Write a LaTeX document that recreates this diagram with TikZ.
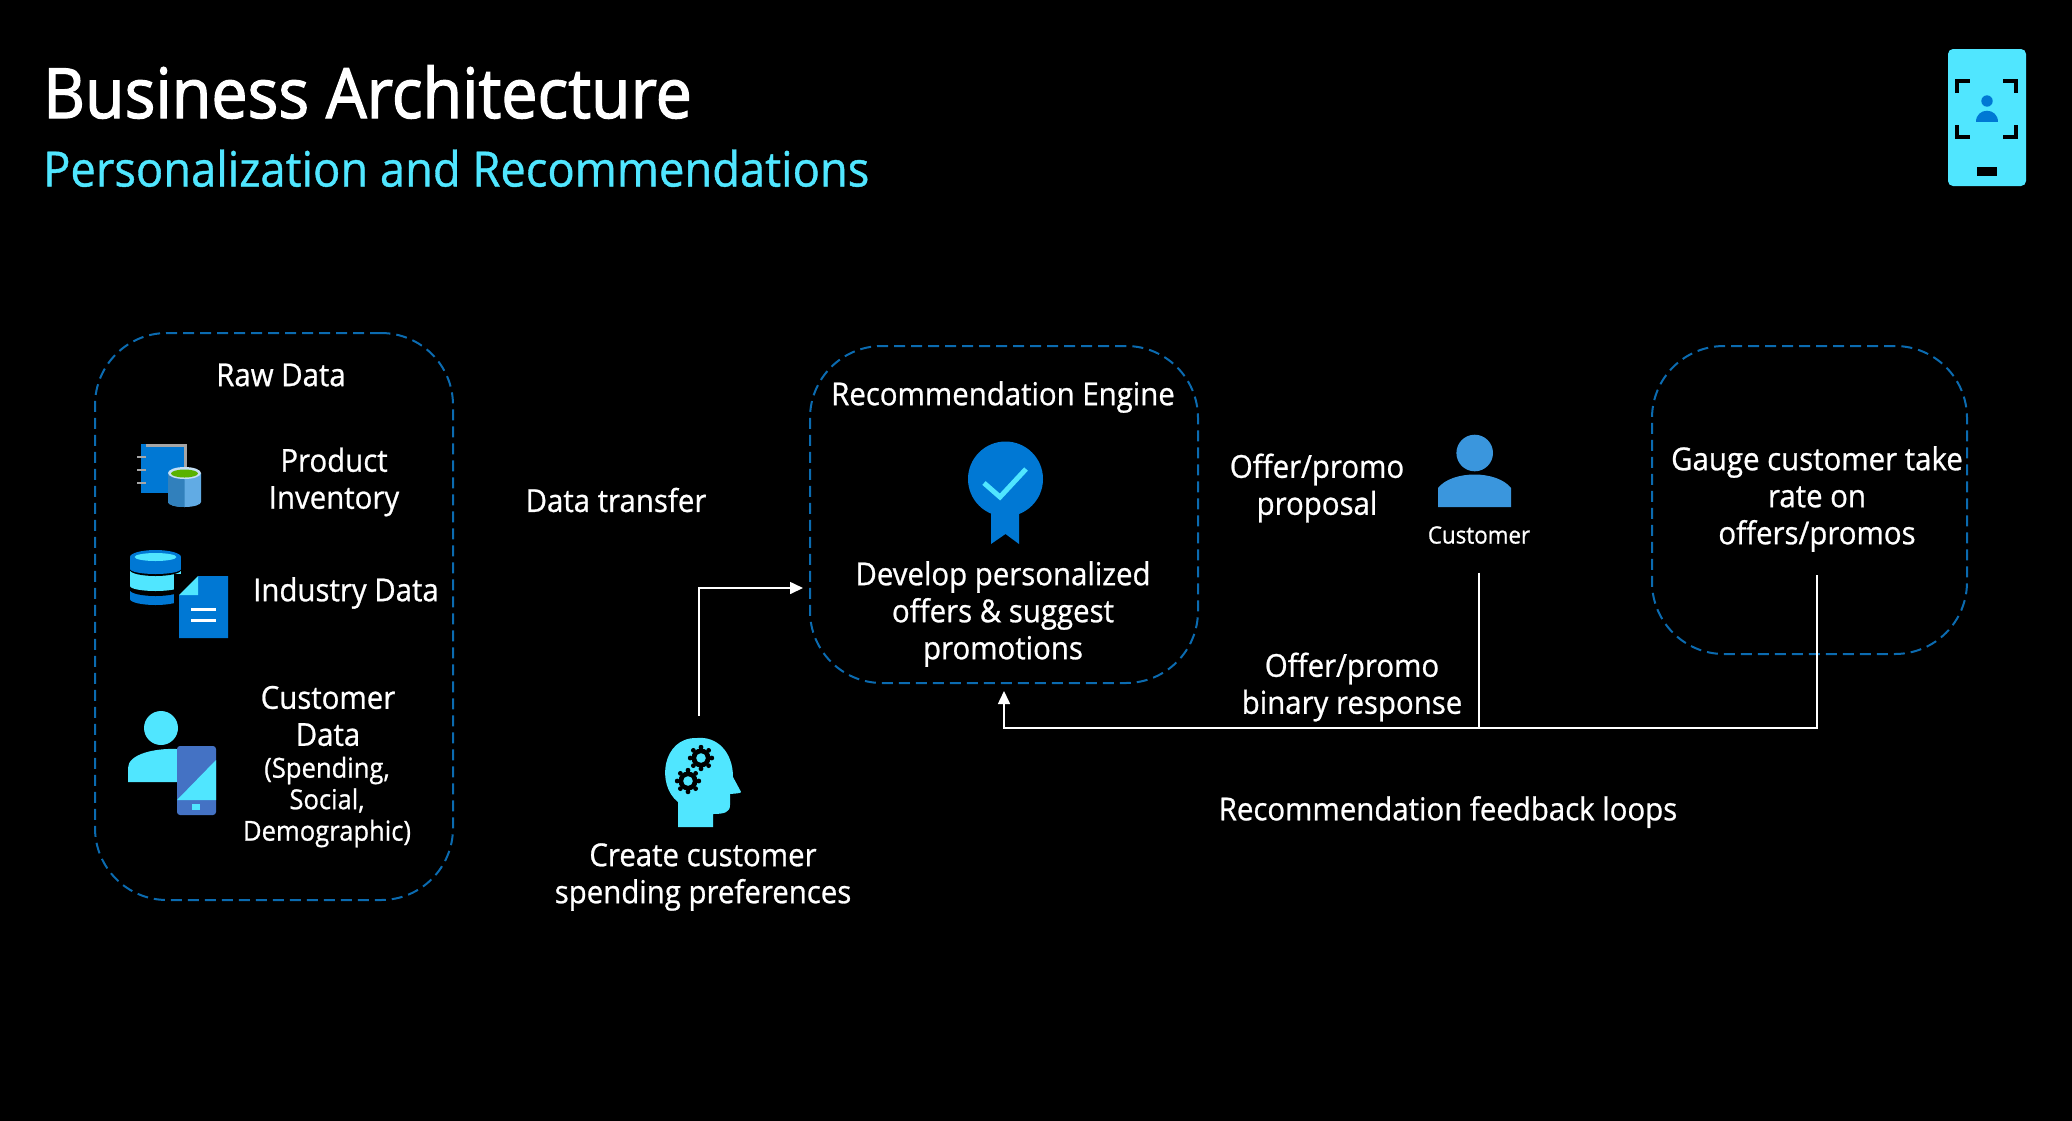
\documentclass[tikz,border=0pt]{standalone}
\usepackage{fontspec}
\setmainfont{Open Sans}[FakeStretch=0.93,FakeBold=0.8]
\newfontfamily\titlefont{Open Sans}[FakeStretch=0.93,FakeBold=1.8]
\usetikzlibrary{arrows.meta}
\definecolor{panelcol}{HTML}{0B6BB0}
\definecolor{iconblue}{HTML}{0078D4}
\definecolor{iconcyan}{HTML}{50E6FF}
\definecolor{personcol}{HTML}{3A96DD}
\definecolor{phonecol}{HTML}{4472C4}
\tikzset{
  panel/.style={draw=panelcol,line width=2,dash pattern=on 11 off 6,rounded corners=72,minimum width=#1},
  lbl/.style={text=white,align=center,inner sep=0,font=\fontsize{31.6}{37}\selectfont},
  small/.style={lbl,font=\fontsize{27.5}{31.5}\selectfont},
  flow/.style={draw=white,line width=1.6},
  tip/.style={-{Triangle[length=13,width=12]}}
}
\begin{document}
\begin{tikzpicture}[x=1pt,y=-1pt]
  \useasboundingbox (0,0) rectangle (2072,1120);
  \fill[black] (-2,-2) rectangle (2074,1122);

  \node[inner sep=0,anchor=base west,text=white,font=\titlefont\fontsize{69.4}{72}\selectfont] (title) at (43,118) {Business Architecture};
  \node[inner sep=0,anchor=base west,text=iconcyan,font=\fontsize{48.7}{50}\selectfont] (subtitle) at (43,186.5) {Personalization and Recommendations};

  % panels
  \node[panel=358,minimum height=567] (rawbox) at (274,616.5) {};
  \node[panel=388,minimum height=337] (engine) at (1004,514.5) {};
  \node[panel=315,minimum height=308] (gaugebox) at (1809.5,500) {};

  % texts
  \node[lbl] (rawtxt) at (281,375) {Raw Data};
  \node[lbl] (prodtxt) at (334,482) {Product\\Inventory};
  \node[lbl] (indtxt) at (346,593) {Industry Data};
  \node[lbl] (custtxt) at (328,716) {Customer\\Data};
  \node[small] (custsub) at (327,802) {(Spending,\\Social,\\Demographic)};
  \node[lbl] (transfer) at (616,500) {Data transfer};
  \node[lbl] (enginetxt) at (1003,397) {Recommendation Engine};
  \node[lbl] (develop) at (1003,614) {Develop personalized\\offers \& suggest\\promotions};
  \node[lbl] (proposal) at (1317,488) {Offer/promo\\proposal};
  \node[small,font=\fontsize{24}{28}\selectfont] (customer) at (1479,535) {Customer};
  \node[lbl] (gauge) at (1817,499) {Gauge customer take\\rate on\\offers/promos};
  \node[lbl] (binary) at (1352,687) {Offer/promo\\binary response};
  \node[lbl] (loops) at (1448,812) {Recommendation feedback loops};
  \node[lbl] (create) at (703,877) {Create customer\\spending preferences};

  % connectors
  \coordinate (brain) at (699,716);
  \coordinate (enginein) at (810,588);
  \coordinate (loop) at (1817,728);
  \draw[flow,tip,shorten >=7] (brain) |- (enginein);
  \draw[flow,tip,shorten <=23,shorten >=7] (gauge.south) -- (loop) -| (engine.south);
  \draw[flow,shorten <=28.5] (customer.south) -- (customer.south |- loop);

  % phone badge
  \fill[iconcyan,rounded corners=5] (1948,49) rectangle (2026,186);
  \draw[black,line width=3.5] (1957,93) -- (1957,81) -- (1970,81);
  \draw[black,line width=3.5] (2003,81) -- (2016,81) -- (2016,93);
  \draw[black,line width=3.5] (1957,125) -- (1957,137) -- (1970,137);
  \draw[black,line width=3.5] (2003,137) -- (2016,137) -- (2016,125);
  \fill[iconblue] (1987,101) circle (5.7);
  \fill[iconblue] (1976,122) .. controls (1976,107) and (1998,107) .. (1998,122) -- cycle;
  \fill[black] (1977,167) rectangle (1997,176);

  % customer
  \fill[personcol] (1474.7,453) circle (18.3);
  \fill[personcol] (1438,507) -- (1438,488) .. controls (1452,470) and (1497,470) .. (1511,488) -- (1511,507) -- cycle;

  % product inventory
  \fill[iconblue] (141,444) rectangle (187,493);
  \draw[gray!70,line width=3] (146,445.5) -- (185.5,445.5) -- (185.5,470);
  \foreach \y in {457,470,483}
    \draw[gray!70,line width=2.5] (137,\y) -- (146,\y);
  \fill[personcol!80!white] (168,473) -- (168,502) arc[x radius=16.5,y radius=5,start angle=180,end angle=0] -- (201,473) -- cycle;
  \fill[personcol!85!black] (168,473) -- (168,502) arc[x radius=16.5,y radius=5,start angle=180,end angle=90] -- (184.5,473) -- cycle;
  \fill[personcol!30!white] (184.5,473) ellipse (16.5 and 6);
  \fill[green!50!yellow!70!black] (184.5,473.5) ellipse (13.5 and 4);

  % industry data
  \fill[iconblue] (130,591) -- (130,599) arc[x radius=25.5,y radius=6,start angle=180,end angle=0] -- (181,591) -- cycle;
  \fill[black] (130,589) -- (130,590) arc[x radius=25.5,y radius=6,start angle=180,end angle=0] -- (181,589) -- cycle;
  \fill[iconcyan] (130,571) rectangle (181,586);
  \fill[iconcyan] (155.5,586) ellipse (25.5 and 5);
  \fill[black] (130,569) -- (130,570) arc[x radius=25.5,y radius=6,start angle=180,end angle=0] -- (181,569) -- cycle;
  \fill[iconblue] (130,557) rectangle (181,569);
  \fill[iconblue] (155.5,569) ellipse (25.5 and 5);
  \fill[iconblue] (155.5,557) ellipse (25.5 and 7);
  \fill[iconcyan] (155.5,557) ellipse (21 and 4);
  \fill[black] (174,574) rectangle (232,642);
  \fill[iconblue] (198,576) -- (228,576) -- (228,638) -- (179,638) -- (179,595) -- (198,595) -- cycle;
  \fill[iconcyan] (179,595) -- (198,576) -- (198,595) -- cycle;
  \foreach \y in {609,620}
    \fill[white] (191,\y-1.5) rectangle (216,\y+1.5);

  % customer data
  \fill[iconcyan] (161,728) circle (17);
  \fill[iconcyan] (128,782) -- (128,768) .. controls (128,754) and (155,748) .. (177,749) -- (177,782) -- cycle;
  \fill[phonecol,rounded corners=3] (177,746) rectangle (216,815);
  \fill[iconcyan] (177,800) -- (216,760) -- (216,800) -- cycle;
  \fill[iconcyan] (192,804) rectangle (200,810);

  % badge
  \fill[iconblue] (991,505) -- (991,544) -- (1005.5,534) -- (1019,544) -- (1019,505) -- cycle;
  \fill[iconblue] (1005.5,479) circle (37.5);
  \draw[iconcyan,line width=5] (984,483) -- (1000,497) -- (1026,469);

  % head with gears
  \fill[iconcyan] (678,827) -- (678,802) .. controls (656,785) and (662,737) .. (697,738)
    .. controls (717,736) and (733,752) .. (733,777) -- (740,790) .. controls (742,793) and (742,793) .. (730,794)
    -- (730,805) .. controls (730,812) and (725,814) .. (713,814) -- (713,827) -- cycle;
  \foreach \cx/\cy in {701/758,688/781}{
    \fill[black] (\cx,\cy) circle (9.5);
    \foreach \a in {0,45,...,315}
      \fill[black] (\cx,\cy) ++(\a:10.8) circle (2.4);
    \fill[iconcyan] (\cx,\cy) circle (4.8);
  }
\end{tikzpicture}
\end{document}
